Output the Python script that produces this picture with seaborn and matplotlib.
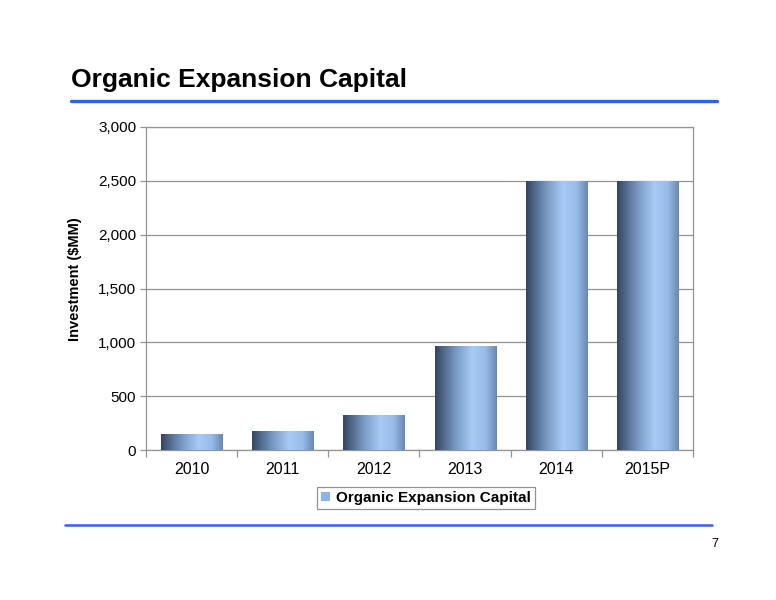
import numpy as np
import matplotlib
matplotlib.use("Agg")
import matplotlib.pyplot as plt
from matplotlib.colors import LinearSegmentedColormap
from matplotlib.lines import Line2D
from matplotlib.patches import Patch
from matplotlib.ticker import FuncFormatter, FixedLocator
import pandas as pd
import seaborn as sns

# data
years = ["2010", "2011", "2012", "2013", "2014", "2015P"]
capital = [150, 175, 325, 965, 2500, 2500]
series_name = "Organic Expansion Capital"

title = "Organic Expansion Capital"
y_label = "Investment ($MM)"
page_no = "7"

sns.set_style("white")
plt.rcParams["font.family"] = ["Liberation Sans", "DejaVu Sans"]
plt.rcParams["text.color"] = "black"
plt.rcParams["axes.labelcolor"] = "black"

df = pd.DataFrame({"year": years, "capital": capital})

fig = plt.figure(figsize=(7.76, 6.0), dpi=100)
ax = fig.add_axes([146 / 776, 1 - 450 / 600, 547 / 776, 323 / 600])

sns.barplot(data=df, x="year", y="capital", color="#8db4e2", width=0.67,
            ax=ax, zorder=3)

# cylinder-like shading across each bar
shade = LinearSegmentedColormap.from_list("shade", [
    (0.0, "#34465f"), (0.12, "#4d6485"), (0.35, "#7c9cc7"),
    (0.6, "#a6cbf6"), (0.82, "#98bbe8"), (1.0, "#6a87b0")])
grad = np.linspace(0, 1, 256).reshape(1, -1)
for p in ax.patches:
    x0, y0 = p.get_x(), p.get_y()
    w, h = p.get_width(), p.get_height()
    p.set_facecolor("none")
    p.set_edgecolor("none")
    im = ax.imshow(grad, cmap=shade, aspect="auto", zorder=3,
                   extent=[x0, x0 + w, y0, y0 + h], interpolation="bilinear")
    im.set_clip_path(p)

ax.set_xlim(-0.5, len(years) - 0.5)
ax.set_ylim(0, 3000)
ax.set_yticks(np.arange(0, 3001, 500))
ax.yaxis.set_major_formatter(FuncFormatter(lambda v, _: f"{int(v):,}"))
ax.yaxis.grid(True, color="#939393", linewidth=0.9, zorder=0)
ax.set_axisbelow(True)

ax.xaxis.set_minor_locator(FixedLocator(np.arange(-0.5, len(years), 1.0)))
ax.tick_params(axis="x", which="major", length=0, pad=9, labelsize=11.5,
               colors="black")
ax.tick_params(axis="x", which="minor", length=5, width=0.9,
               color="#939393", direction="out", bottom=True)
ax.tick_params(axis="y", length=4, width=0.9, color="#939393",
               direction="out", left=True, pad=3, labelsize=11,
               colors="black")
for s in ax.spines.values():
    s.set_visible(True)
    s.set_color("#939393")
    s.set_linewidth(0.9)

ax.set_xlabel("")
ax.set_ylabel(y_label, fontsize=10.5, fontweight="bold", color="black")
ax.yaxis.set_label_coords(-0.117, 0.53)

# legend below the plot
handle = Patch(facecolor="#8db4e2", edgecolor="none", label=series_name)
leg = fig.legend(handles=[handle], loc="center", bbox_to_anchor=(426 / 776, 1 - 498 / 600),
                 frameon=True, fancybox=False, shadow=False, handlelength=0.6,
                 handleheight=0.6, handletextpad=0.4, borderpad=0.25,
                 prop={"weight": "bold", "size": 11})
leg.get_frame().set_edgecolor("#777777")
leg.get_frame().set_linewidth(0.9)
for t in leg.get_texts():
    t.set_color("black")

# slide decorations
fig.text(71 / 776, 1 - 87 / 600, title, fontsize=19, fontweight="bold",
         ha="left", va="baseline", color="black")
fig.add_artist(Line2D([71 / 776, 717 / 776], [1 - 101 / 600] * 2,
                      color="#2f62e6", linewidth=2.4))
fig.add_artist(Line2D([65 / 776, 712 / 776], [1 - 525 / 600] * 2,
                      color="#2f62e6", linewidth=1.8))
fig.text(715 / 776, 1 - 544 / 600, page_no, fontsize=9, ha="center",
         va="center", color="black")

fig.savefig("out.png", dpi=100)
